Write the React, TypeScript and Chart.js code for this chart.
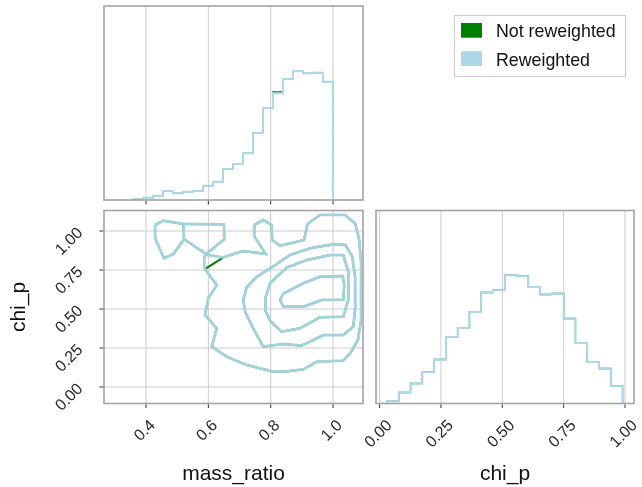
import React, { useEffect, useRef } from "react";
import { Chart, registerables } from "chart.js";

Chart.register(...registerables);

const W = 642;
const H = 487;
const FONT = '"Liberation Sans", Arial, Helvetica, sans-serif';

// ---------- series ----------
const seriesNames = ["Not reweighted", "Reweighted"];
const seriesColors = ["#008000", "#add8e6"];
const contourColor = "#a3d3d9";

// ---------- mass_ratio marginal histogram (20 bins) ----------
const massBinRange = [0.358, 1.0];
const massCountsRaw = [0.7, 2.3, 4.3, 9, 6.7, 8.3, 9, 14.3, 18.3, 31, 36, 46.7, 67.3, 91.7, 108, 121, 129, 126.7, 127.3, 118.3];
const massCountsReweighted = [0.7, 2.3, 4.3, 9, 6.7, 8.3, 9, 14.3, 18.3, 31, 36, 46.7, 67.3, 91.7, 106.7, 121, 129, 126.7, 127.3, 118.3];

// ---------- chi_p marginal histogram (20 bins) ----------
const chiBinRange = [0.03, 0.99];
const chiCountsRaw = [2.3, 11, 20, 31.3, 44, 66.6, 75.6, 91.6, 111, 113.3, 128.3, 127.3, 116.6, 109, 110, 85, 60.6, 41.6, 35, 17.3];
const chiCountsReweighted = [2.3, 11, 20, 31.3, 44, 66.6, 75.6, 91.6, 111, 113.3, 128.3, 127.3, 116.6, 109, 110, 85, 60.6, 41.6, 35, 17.3];

// ---------- 2D contours (mass_ratio, chi_p) ----------
const contourOuterReweighted = [
  [0.587, 0.761], [0.627, 0.654], [0.600, 0.568], [0.589, 0.462], [0.627, 0.376], [0.611, 0.259],
  [0.659, 0.194], [0.723, 0.141], [0.809, 0.098], [0.841, 0.098], [0.905, 0.113], [0.948, 0.162],
  [1.033, 0.169], [1.055, 0.216], [1.080, 0.301], [1.090, 0.430], [1.090, 0.800], [1.084, 0.942],
  [1.071, 1.049], [1.038, 1.103], [0.958, 1.103], [0.918, 1.045], [0.907, 0.942], [0.830, 0.906],
  [0.805, 0.942], [0.803, 1.039], [0.776, 1.071], [0.748, 1.039], [0.747, 0.968], [0.784, 0.853],
  [0.712, 0.872], [0.648, 0.831], [0.593, 0.848], [0.587, 0.836], [0.587, 0.761],
];
const contourOuterRaw = [
  [0.589, 0.756], [0.627, 0.654], [0.600, 0.568], [0.589, 0.462], [0.627, 0.376], [0.611, 0.259],
  [0.659, 0.194], [0.723, 0.141], [0.809, 0.098], [0.841, 0.098], [0.905, 0.113], [0.948, 0.162],
  [1.033, 0.169], [1.055, 0.216], [1.080, 0.301], [1.090, 0.430], [1.090, 0.800], [1.084, 0.942],
  [1.071, 1.049], [1.038, 1.103], [0.958, 1.103], [0.918, 1.045], [0.907, 0.942], [0.830, 0.906],
  [0.805, 0.942], [0.803, 1.039], [0.776, 1.071], [0.748, 1.039], [0.747, 0.968], [0.784, 0.853],
  [0.712, 0.872], [0.648, 0.831], [0.589, 0.756],
];
const contourLeftLoop = [
  [0.429, 1.039], [0.456, 1.066], [0.520, 1.045], [0.522, 0.947], [0.488, 0.853], [0.458, 0.825],
  [0.429, 0.953], [0.429, 1.039],
];
const contourMidLoop = [
  [0.520, 1.045], [0.650, 1.043], [0.651, 0.947], [0.593, 0.853], [0.522, 0.947],
];
const contourLevel2 = [
  [0.712, 0.558], [0.723, 0.639], [0.755, 0.707], [0.798, 0.761], [0.862, 0.846], [0.926, 0.889],
  [1.001, 0.915], [1.040, 0.910], [1.062, 0.835], [1.071, 0.700], [1.071, 0.500], [1.065, 0.387],
  [1.033, 0.333], [0.969, 0.333], [0.899, 0.265], [0.841, 0.276], [0.776, 0.259], [0.744, 0.376],
  [0.718, 0.483], [0.712, 0.558],
];
const contourLevel3 = [
  [0.782, 0.494], [0.784, 0.579], [0.798, 0.665], [0.851, 0.765], [0.916, 0.814], [0.990, 0.846],
  [1.033, 0.846], [1.049, 0.739], [1.049, 0.558], [1.033, 0.451], [0.958, 0.447], [0.894, 0.376],
  [0.835, 0.355], [0.798, 0.425], [0.782, 0.494],
];
const contourLevel4 = [
  [0.830, 0.558], [0.841, 0.600], [0.905, 0.665], [0.958, 0.707], [1.031, 0.712], [1.036, 0.654],
  [1.033, 0.558], [0.964, 0.558], [0.905, 0.515], [0.841, 0.515], [0.830, 0.558],
];

// ---------- axes ----------
const massTicks = [0.4, 0.6, 0.8, 1.0];
const massTickLabels = ["0.4", "0.6", "0.8", "1.0"];
const chiTicks = [0, 0.25, 0.5, 0.75, 1.0];
const chiTickLabels = ["0.00", "0.25", "0.50", "0.75", "1.00"];
const massLimits = [0.2652, 1.0962];
const chiLimits2D = [-0.1058, 1.1315];
const chiLimitsHist = [-0.0147, 1.0366];
const xTitleMass = "mass_ratio";
const xTitleChi = "chi_p";
const yTitleChi = "chi_p";

// ---------- helpers ----------
function stepPoints(range: number[], counts: number[]) {
  const n = counts.length;
  const w = (range[1] - range[0]) / n;
  const pts: { x: number; y: number }[] = [{ x: range[0], y: 0 }];
  counts.forEach((c, i) => {
    pts.push({ x: range[0] + i * w, y: c });
    pts.push({ x: range[0] + (i + 1) * w, y: c });
  });
  pts.push({ x: range[1], y: 0 });
  return pts;
}
const toPts = (arr: number[][]) => arr.map(([x, y]) => ({ x, y }));

// order: higher value is drawn first (underneath)
function lineDs(data: any[], color: string, width: number, order: number) {
  return {
    data,
    order,
    showLine: true,
    borderColor: color,
    backgroundColor: color,
    borderWidth: width,
    pointRadius: 0,
    pointHoverRadius: 0,
    fill: false,
    tension: 0,
    borderJoinStyle: "miter" as const,
    clip: 4,
  };
}

type Area = { left: number; top: number; right: number; bottom: number };
type Decor = {
  gridX?: number[];
  gridY?: number[];
  ticksX?: { values: number[]; labels?: string[] };
  ticksY?: { values: number[]; labels?: string[] };
  xTitle?: string;
  yTitle?: string;
  legend?: boolean;
};

function decorPlugin(d: Decor) {
  return {
    id: "decor",
    beforeDatasetsDraw(chart: any) {
      const { ctx, chartArea: a, scales } = chart;
      ctx.save();
      ctx.strokeStyle = "#cccccc";
      ctx.lineWidth = 1;
      (d.gridX || []).forEach((v) => {
        const px = scales.x.getPixelForValue(v);
        ctx.beginPath();
        ctx.moveTo(px, a.top);
        ctx.lineTo(px, a.bottom);
        ctx.stroke();
      });
      (d.gridY || []).forEach((v) => {
        const py = scales.y.getPixelForValue(v);
        ctx.beginPath();
        ctx.moveTo(a.left, py);
        ctx.lineTo(a.right, py);
        ctx.stroke();
      });
      ctx.restore();
    },
    afterDatasetsDraw(chart: any) {
      const { ctx, chartArea: a, scales } = chart;
      ctx.save();
      // frame
      ctx.strokeStyle = "#a3a3a3";
      ctx.lineWidth = 1.6;
      ctx.strokeRect(a.left, a.top, a.right - a.left, a.bottom - a.top);
      // ticks
      ctx.strokeStyle = "#333333";
      ctx.lineWidth = 1;
      ctx.fillStyle = "#262626";
      ctx.font = `16px ${FONT}`;
      if (d.ticksX) {
        d.ticksX.values.forEach((v, i) => {
          const px = scales.x.getPixelForValue(v);
          ctx.beginPath();
          ctx.moveTo(px, a.bottom + 0.8);
          ctx.lineTo(px, a.bottom + 4.5);
          ctx.stroke();
          const lab = d.ticksX!.labels?.[i];
          if (lab) {
            const w = ctx.measureText(lab).width;
            ctx.save();
            ctx.translate(px - 1, a.bottom + 19.5 + w * 0.3535);
            ctx.rotate(-Math.PI / 4);
            ctx.textAlign = "center";
            ctx.textBaseline = "middle";
            ctx.fillText(lab, 0, 0);
            ctx.restore();
          }
        });
      }
      if (d.ticksY) {
        d.ticksY.values.forEach((v, i) => {
          const py = scales.y.getPixelForValue(v);
          ctx.beginPath();
          ctx.moveTo(a.left - 4.5, py);
          ctx.lineTo(a.left - 0.8, py);
          ctx.stroke();
          const lab = d.ticksY!.labels?.[i];
          if (lab) {
            const w = ctx.measureText(lab).width;
            ctx.save();
            ctx.translate(a.left - 23.5 - w * 0.3535, py + 10.5);
            ctx.rotate(-Math.PI / 4);
            ctx.textAlign = "center";
            ctx.textBaseline = "middle";
            ctx.fillText(lab, 0, 0);
            ctx.restore();
          }
        });
      }
      ctx.fillStyle = "#111111";
      ctx.font = `21px ${FONT}`;
      if (d.xTitle) {
        ctx.textAlign = "center";
        ctx.textBaseline = "alphabetic";
        ctx.fillText(d.xTitle, (a.left + a.right) / 2, 479.5);
      }
      if (d.yTitle) {
        ctx.save();
        ctx.translate(24.5, (a.top + a.bottom) / 2);
        ctx.rotate(-Math.PI / 2);
        ctx.textAlign = "center";
        ctx.textBaseline = "alphabetic";
        ctx.fillText(d.yTitle, 0, 0);
        ctx.restore();
      }
      if (d.legend) {
        ctx.fillStyle = "#ffffff";
        ctx.fillRect(454, 15, 171, 62);
        ctx.strokeStyle = "#cccccc";
        ctx.lineWidth = 1;
        ctx.strokeRect(454.5, 15.5, 171, 61);
        ctx.font = `17.8px ${FONT}`;
        ctx.textAlign = "left";
        ctx.textBaseline = "alphabetic";
        seriesNames.forEach((name, i) => {
          const y0 = 23 + i * 28.2;
          ctx.fillStyle = seriesColors[i];
          ctx.fillRect(461, y0, 21, 14.7);
          ctx.fillStyle = "#111111";
          ctx.fillText(name, 496, y0 + 14.3);
        });
      }
      ctx.restore();
    },
  };
}

function makeChart(canvas: HTMLCanvasElement, area: Area, xr: number[], yr: number[], datasets: any[], decor: Decor) {
  return new Chart(canvas, {
    type: "scatter",
    data: { datasets },
    options: {
      animation: false,
      responsive: false,
      devicePixelRatio: 1,
      layout: { padding: { left: area.left, top: area.top, right: W - area.right, bottom: H - area.bottom } },
      scales: {
        x: { type: "linear", display: false, min: xr[0], max: xr[1] },
        y: { type: "linear", display: false, min: yr[0], max: yr[1] },
      },
      plugins: { legend: { display: false }, tooltip: { enabled: false } },
      events: [],
    } as any,
    plugins: [decorPlugin(decor)],
  });
}

export default function App() {
  const r1 = useRef<HTMLCanvasElement>(null);
  const r2 = useRef<HTMLCanvasElement>(null);
  const r3 = useRef<HTMLCanvasElement>(null);

  useEffect(() => {
    const charts: Chart[] = [];
    // top: mass_ratio histogram
    charts.push(
      makeChart(
        r1.current!,
        { left: 104, top: 6, right: 363, bottom: 200 },
        massLimits,
        [0, 194],
        [
          lineDs(stepPoints(massBinRange, massCountsRaw), seriesColors[0], 1.3, 2),
          lineDs(stepPoints(massBinRange, massCountsReweighted), seriesColors[1], 2, 1),
        ],
        { gridX: massTicks, ticksX: { values: massTicks }, legend: true }
      )
    );
    // 2D contour panel
    const rawSets = [contourOuterRaw, contourLeftLoop, contourMidLoop, contourLevel2, contourLevel3, contourLevel4];
    const rwSets = [contourOuterReweighted, contourLeftLoop, contourMidLoop, contourLevel2, contourLevel3, contourLevel4];
    charts.push(
      makeChart(
        r2.current!,
        { left: 104, top: 210.5, right: 363, bottom: 403.5 },
        massLimits,
        chiLimits2D,
        [
          ...rawSets.map((s) => lineDs(toPts(s), seriesColors[0], 2.0, 2)),
          ...rwSets.map((s) => lineDs(toPts(s), contourColor, 2.8, 1)),
        ],
        {
          gridX: massTicks,
          gridY: chiTicks,
          ticksX: { values: massTicks, labels: massTickLabels },
          ticksY: { values: chiTicks, labels: chiTickLabels },
          xTitle: xTitleMass,
          yTitle: yTitleChi,
        }
      )
    );
    // right: chi_p histogram
    charts.push(
      makeChart(
        r3.current!,
        { left: 376, top: 210.5, right: 634, bottom: 403.5 },
        chiLimitsHist,
        [0, 193],
        [
          lineDs(stepPoints(chiBinRange, chiCountsRaw), seriesColors[0], 1.3, 2),
          lineDs(stepPoints(chiBinRange, chiCountsReweighted), seriesColors[1], 2, 1),
        ],
        { gridX: chiTicks, ticksX: { values: chiTicks, labels: chiTickLabels }, xTitle: xTitleChi }
      )
    );
    return () => charts.forEach((c) => c.destroy());
  }, []);

  const cStyle: React.CSSProperties = { position: "absolute", left: 0, top: 0, width: W, height: H };
  return (
    <div style={{ position: "fixed", left: 0, top: 0, width: W, height: H, background: "#ffffff", overflow: "hidden" }}>
      <canvas ref={r1} width={W} height={H} style={cStyle} />
      <canvas ref={r2} width={W} height={H} style={cStyle} />
      <canvas ref={r3} width={W} height={H} style={cStyle} />
    </div>
  );
}
